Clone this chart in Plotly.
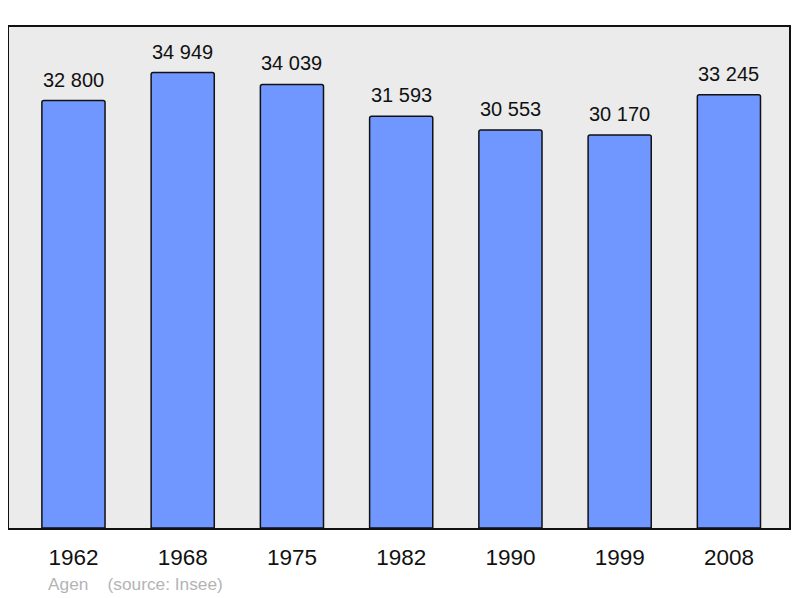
import plotly.graph_objects as go

years = ["1962", "1968", "1975", "1982", "1990", "1999", "2008"]
population = [32800, 34949, 34039, 31593, 30553, 30170, 33245]
value_labels = [f"{v:,}".replace(",", " ") for v in population]

fig = go.Figure()
fig.add_trace(go.Bar(
    x=years, y=population, width=0.578,
    marker=dict(color="#7096ff", line=dict(color="#111111", width=1.5), cornerradius=2),
    hoverinfo="skip",
))

for i, (v, lab) in enumerate(zip(population, value_labels)):
    fig.add_annotation(x=i, y=v, text=lab, showarrow=False, yanchor="bottom",
                       yshift=8, font=dict(size=20, color="#111111"))

fig.add_annotation(xref="paper", yref="paper", x=0.048, y=-0.112, xanchor="left", yanchor="middle",
                   text="Agen &nbsp;&nbsp; (source: Insee)", showarrow=False,
                   font=dict(size=17.3, color="#b4b4b4"))

fig.update_layout(
    width=784, height=590,
    margin=dict(l=1, r=1, t=19, b=70),
    paper_bgcolor="white", plot_bgcolor="#ebebeb",
    font=dict(family="Liberation Sans, Arial, sans-serif", color="#111111"),
    showlegend=False,
    xaxis=dict(type="category", range=[-0.59, 6.55], showgrid=False, zeroline=False,
               showline=True, mirror=True, linecolor="#111111", linewidth=2,
               ticks="", tickfont=dict(size=22.5, color="#111111"), ticklabelstandoff=8),
    yaxis=dict(range=[0, 38450], showgrid=False, zeroline=False, showticklabels=False,
               showline=True, mirror=True, linecolor="#111111", linewidth=2, ticks=""),
)

fig.write_html("out.html")
